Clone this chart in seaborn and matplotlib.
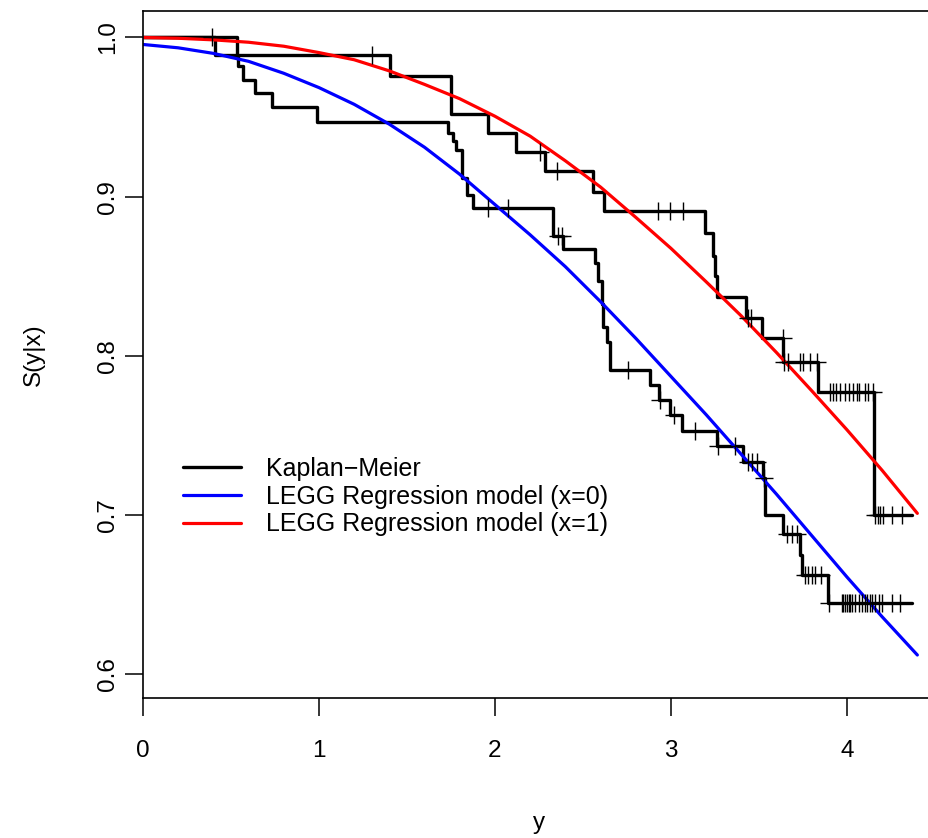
import numpy as np
import matplotlib
matplotlib.use("Agg")
import matplotlib.pyplot as plt
import seaborn as sns

# --- Kaplan-Meier, group x=1 (upper step curve) ---
km1_time = [0, 0.532, 1.403, 1.748, 1.962, 2.119, 2.284, 2.555, 2.619, 3.193, 3.24,
            3.25, 3.263, 3.426, 3.519, 3.637, 3.837, 4.153, 4.367]
km1_surv = [1.0, 0.989, 0.976, 0.952, 0.940, 0.928, 0.916, 0.903, 0.891, 0.877, 0.863,
            0.850, 0.837, 0.824, 0.811, 0.796, 0.777, 0.700, 0.700]
km1_cens = [0.39, 1.30, 2.256, 2.354, 2.928, 2.994, 3.066, 3.44, 3.455, 3.635, 3.64,
            3.665, 3.733, 3.75, 3.79, 3.83, 3.903, 3.92, 3.94, 3.96, 3.99, 4.01, 4.035,
            4.055, 4.07, 4.10, 4.12, 4.15, 4.16, 4.175, 4.19, 4.205, 4.254, 4.31]

# --- Kaplan-Meier, group x=0 (lower step curve) ---
km0_time = [0, 0.41, 0.54, 0.57, 0.636, 0.731, 0.987, 1.735, 1.763, 1.78, 1.81, 1.84,
            1.877, 2.331, 2.388, 2.568, 2.587, 2.606, 2.615, 2.635, 2.653, 2.881, 2.93,
            2.994, 3.06, 3.26, 3.407, 3.525, 3.535, 3.638, 3.733, 3.745, 3.894, 4.367]
km0_surv = [1.0, 0.989, 0.982, 0.973, 0.965, 0.956, 0.947, 0.940, 0.935, 0.929, 0.912,
            0.901, 0.893, 0.8755, 0.867, 0.8585, 0.847, 0.8325, 0.818, 0.8085, 0.791,
            0.7815, 0.772, 0.763, 0.753, 0.7435, 0.7335, 0.723, 0.700, 0.688, 0.675,
            0.662, 0.6445, 0.6445]
km0_cens = [1.958, 2.076, 2.36, 2.38, 2.757, 2.935, 3.02, 3.136, 3.27, 3.364, 3.44, 3.46,
            3.49, 3.53, 3.657, 3.685, 3.714, 3.76, 3.78, 3.80, 3.82, 3.85, 3.90, 3.97,
            3.98, 3.99, 4.00, 4.01, 4.02, 4.03, 4.045, 4.07, 4.085, 4.10, 4.115, 4.13,
            4.145, 4.16, 4.18, 4.20, 4.254, 4.30]

# --- LEGG regression model curves ---
model_y = [0.0, 0.2, 0.4, 0.6, 0.8, 1.0, 1.2, 1.4, 1.6, 1.8, 2.0, 2.2, 2.4, 2.6, 2.8,
           3.0, 3.2, 3.4, 3.6, 3.8, 4.0, 4.2, 4.4]
model_x0 = [0.9956, 0.9935, 0.990, 0.985, 0.9775, 0.9685, 0.958, 0.9455, 0.931, 0.914,
            0.895, 0.876, 0.856, 0.834, 0.811, 0.787, 0.763, 0.738, 0.713, 0.687, 0.661,
            0.636, 0.612]
model_x1 = [1.000, 0.9995, 0.9985, 0.997, 0.9945, 0.9905, 0.986, 0.979, 0.9705, 0.9615,
            0.9505, 0.938, 0.9225, 0.906, 0.887, 0.8675, 0.8465, 0.825, 0.802, 0.778,
            0.7535, 0.728, 0.701]


def level_at(times, surv, t):
    idx = np.searchsorted(times, t, side="right") - 1
    return np.asarray(surv)[idx]


sns.set_style("white")
plt.rcParams["font.family"] = ["Liberation Sans", "DejaVu Sans"]
plt.rcParams["text.color"] = "black"
plt.rcParams["axes.labelcolor"] = "black"

fig = plt.figure(figsize=(9.29, 8.38), dpi=100)
ax = fig.add_axes([0.1539, 0.1671, 0.8525, 0.8201])

sns.lineplot(x=km1_time, y=km1_surv, drawstyle="steps-post", color="black",
             linewidth=2.4, ax=ax, label="Kaplan\u2212Meier", sort=False)
sns.lineplot(x=km0_time, y=km0_surv, drawstyle="steps-post", color="black",
             linewidth=2.4, ax=ax, sort=False)
sns.lineplot(x=model_y, y=model_x0, color="#0000FF", linewidth=2.3, ax=ax,
             label="LEGG Regression model (x=0)", sort=False)
sns.lineplot(x=model_y, y=model_x1, color="#FF0000", linewidth=2.3, ax=ax,
             label="LEGG Regression model (x=1)", sort=False)

sns.scatterplot(x=km1_cens, y=level_at(km1_time, km1_surv, km1_cens), marker="+",
                s=170, color="black", linewidth=1.0, ax=ax, legend=False, zorder=3)
sns.scatterplot(x=km0_cens, y=level_at(km0_time, km0_surv, km0_cens), marker="+",
                s=170, color="black", linewidth=1.0, ax=ax, legend=False, zorder=3)

ax.set_xlim(0, 4.5)
ax.set_ylim(0.585, 1.0168)
ax.set_xticks([0, 1, 2, 3, 4])
ax.set_yticks([0.6, 0.7, 0.8, 0.9, 1.0])
ax.set_yticklabels(["0.6", "0.7", "0.8", "0.9", "1.0"], rotation=90, va="center")
ax.tick_params(axis="both", direction="out", length=13, width=1.1, labelsize=17.5,
               colors="black", bottom=True, left=True)
ax.tick_params(axis="x", pad=17.5)
ax.tick_params(axis="y", pad=4)
ax.set_xlabel("y", fontsize=17.5, labelpad=35.5)
ax.set_ylabel("S(y|x)", fontsize=17.5, labelpad=38)

for side in ["left", "bottom", "top"]:
    ax.spines[side].set_color("black")
    ax.spines[side].set_linewidth(1.2)
ax.spines["right"].set_visible(False)

ax.legend(loc="upper left", bbox_to_anchor=(0.197, 0.4547),
          bbox_transform=fig.transFigure, frameon=False, fontsize=18,
          handlelength=2.3, handletextpad=1.0, labelspacing=0.15, borderpad=0,
          borderaxespad=0)

fig.savefig("out.png", dpi=100)
